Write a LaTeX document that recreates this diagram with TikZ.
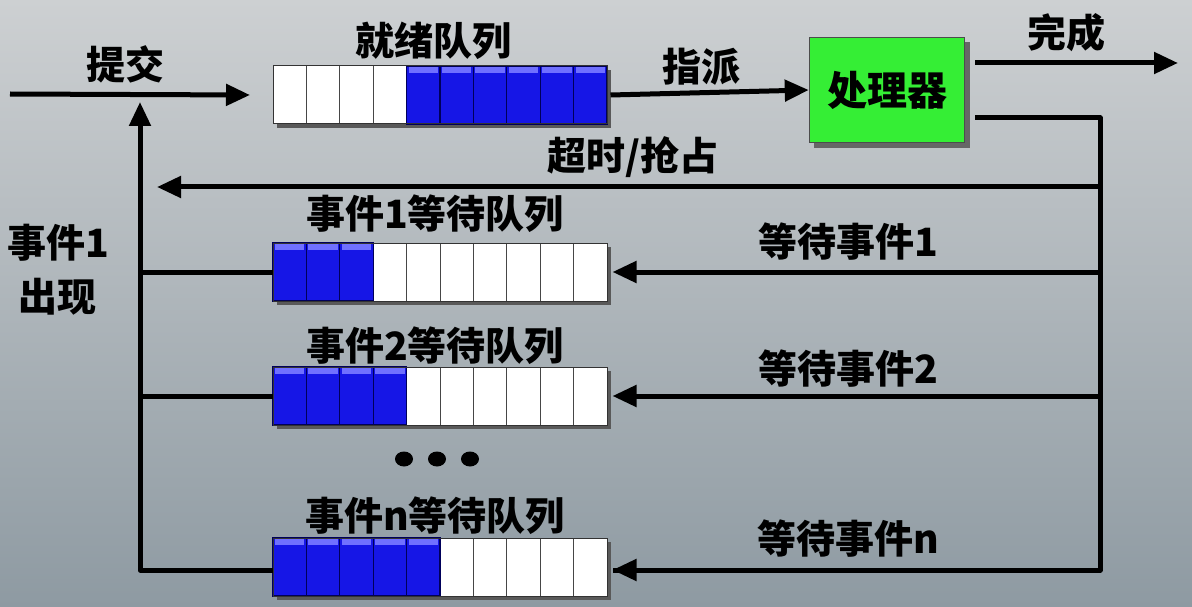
\documentclass[tikz,border=0pt]{standalone}
\usepackage{fontspec}
\newfontfamily\cjk{Noto Sans CJK SC}
\usetikzlibrary{arrows.meta,calc}
\definecolor{bgtop}{HTML}{CDD0D2}
\definecolor{bgmid}{HTML}{C0C7CB}
\definecolor{bgbot}{HTML}{8E9AA2}
\definecolor{qblue}{HTML}{1616E6}
\definecolor{qbluehi}{HTML}{7070FF}
\definecolor{qbluedk}{HTML}{00005A}
\definecolor{procgreen}{HTML}{35EE35}
\tikzset{
  lab/.style={font={\cjk\bfseries\fontsize{39}{46}\selectfont}, inner sep=0pt, text=black},
  qbox/.style={draw=black!80, line width=1pt, minimum width=334pt, minimum height=58pt, inner sep=0pt},
  proc/.style={draw=black!70, line width=1.5pt, fill=procgreen, minimum width=155pt, minimum height=105pt, inner sep=0pt, font={\cjk\bfseries\fontsize{40}{46}\selectfont}},
  conn/.style={line width=5pt, black},
  arr/.style={conn, -{Triangle[length=24pt,width=21pt]}},
  dot/.style={fill=black, ellipse shape/.style={}, inner sep=0pt},
}
\newcommand\myqueue[4]{%
  \fill[black!65] (277,{#2-25}) rectangle (611,{#2+33});
  \foreach \i in {#3}{%
    \pgfmathsetmacro\xa{273+\i*33.4}%
    \pgfmathsetmacro\xb{\xa+33.4}%
    \draw[gray!55!black, line width=1pt, fill=white] (\xa,{#2-29}) rectangle (\xb,{#2+29});
  }%
  \foreach \i in {#4}{%
    \pgfmathsetmacro\xa{273+\i*33.4}%
    \pgfmathsetmacro\xb{\xa+33.4}%
    \draw[qbluedk, line width=1.2pt, fill=qblue] (\xa,{#2-29}) rectangle (\xb,{#2+29});
    \fill[qbluehi] ({\xa+2},{#2-28}) rectangle ({\xb-2},{#2-22});
  }%
  \node[qbox] (#1) at (440,#2) {};
}
\begin{document}
\begin{tikzpicture}[x=1pt,y=-1pt]
\useasboundingbox (0,0) rectangle (1192,607);
\shade[top color=bgtop, middle color=bgmid, bottom color=bgbot] (0,0) rectangle (1192,607);

% queues
\myqueue{qr}{95}{0,...,3}{4,...,9}
\myqueue{qa}{272}{3,...,9}{0,...,2}
\myqueue{qb}{396}{4,...,9}{0,...,3}
\myqueue{qn}{567}{5,...,9}{0,...,4}

% processor
\fill[black!60] (814,42) rectangle (970,148);
\node[proc] (p) at (887,90) {处理器};

% coordinates
\coordinate (in) at (10,94);
\coordinate (upt) at (140,102);
\coordinate (prout) at (975,118);
\coordinate (rb) at (1100,570);
\coordinate (tot) at (157,187);
\coordinate (doneend) at (1178,63);

% connectors
\draw[arr] (in) -- (qr.west -| 250,0);
\draw[arr] (qr.east) ++(3,0) -- (p.west);
\draw[arr] (p.east |- doneend) ++(10,0) -- (doneend);
\draw[conn, line join=round] (p.east |- prout) ++(10,0) -| (rb) -- ($(qn.east)+(5,3)$);
\draw[arr] (rb |- tot) -- (tot);
\draw[arr] (rb |- qa.east) -- ($(qa.east)+(5,0)$);
\draw[arr] (rb |- qb.east) -- ($(qb.east)+(5,0)$);
\draw[arr] ($(rb)+(0,0)$) -- ($(qn.east)+(5,3)$);
\draw[arr, line join=round] ($(qn.west)+(0,3)$) -| (upt);
\draw[conn] (qa.west) -- (qa.west -| upt);
\draw[conn] (qb.west) -- (qb.west -| upt);

% dots
\fill (404,459) ellipse (9pt and 7.5pt);
\fill (437,459) ellipse (9pt and 7.5pt);
\fill (470,459) ellipse (9pt and 7.5pt);

% labels
\node[lab] (l1) at (125,64) {提交};
\node[lab] (l2) at (433,41) {就绪队列};
\node[lab] (l3) at (701,67) {指派};
\node[lab] (l4) at (1066,33) {完成};
\node[lab] (l5) at (633,157) {超时/抢占};
\node[lab] (l6) at (435,214) {事件1等待队列};
\node[lab] (l7) at (848,242) {等待事件1};
\node[lab] (l8) at (435,346) {事件2等待队列};
\node[lab] (l9) at (848,369) {等待事件2};
\node[lab] (l10) at (435,516) {事件n等待队列};
\node[lab] (l11) at (848,539) {等待事件n};
\node[lab, align=center] (l12) at (58,270) {事件1\\[8pt]出现};
\end{tikzpicture}
\end{document}
